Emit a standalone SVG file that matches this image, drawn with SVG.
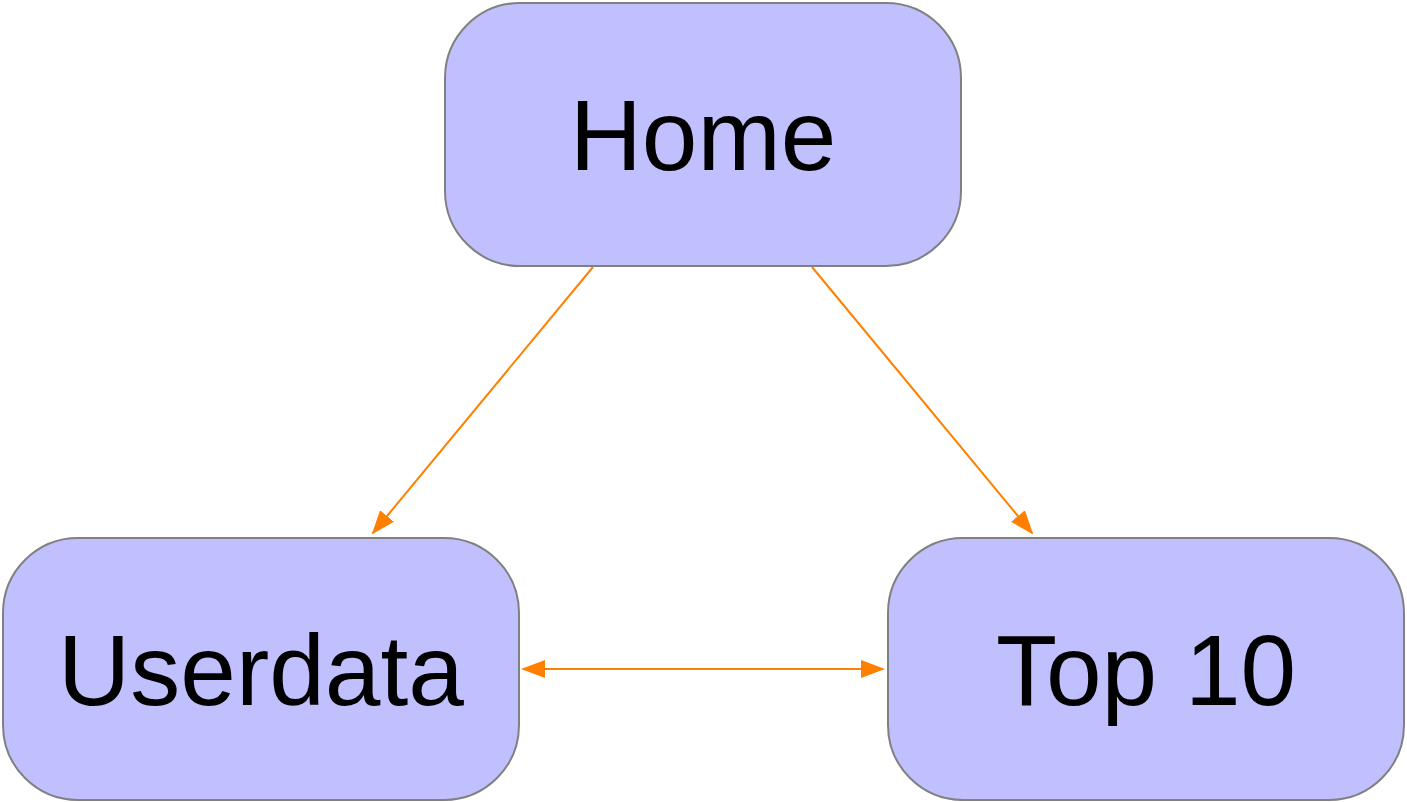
<svg xmlns="http://www.w3.org/2000/svg" width="1407" height="802" viewBox="0 0 1407 802">
<style>
.node rect{fill:#c0c0ff;stroke:#808080;stroke-width:2}
.node text{font-family:"Liberation Sans",Arial,sans-serif;font-size:100px;fill:#000;text-anchor:middle}
.edge{stroke:#ff8000;stroke-width:2;fill:none}
</style>
<defs>
<marker id="ah" markerWidth="12" markerHeight="9" refX="11" refY="4.5" orient="auto-start-reverse" markerUnits="strokeWidth">
<path d="M0,0 L12,4.5 L0,9 Z" fill="#ff8000"/>
</marker>
</defs>
<rect width="1407" height="802" fill="#fff"/>
<g id="connectors">
<line class="edge" x1="593" y1="267" x2="373" y2="533" marker-end="url(#ah)"/>
<line class="edge" x1="812" y1="267" x2="1032" y2="533" marker-end="url(#ah)"/>
<line class="edge" x1="523" y1="669" x2="883" y2="669" marker-start="url(#ah)" marker-end="url(#ah)"/>
</g>
<g id="home" class="node">
<rect x="445" y="3" width="516" height="263" rx="75" ry="75"/>
<text x="703" y="170">Home</text>
</g>
<g id="userdata" class="node">
<rect x="3" y="538" width="516" height="262" rx="75" ry="75"/>
<text x="261" y="705">Userdata</text>
</g>
<g id="top10" class="node">
<rect x="888" y="538" width="516" height="262" rx="75" ry="75"/>
<text x="1146" y="705">Top 10</text>
</g>
</svg>
